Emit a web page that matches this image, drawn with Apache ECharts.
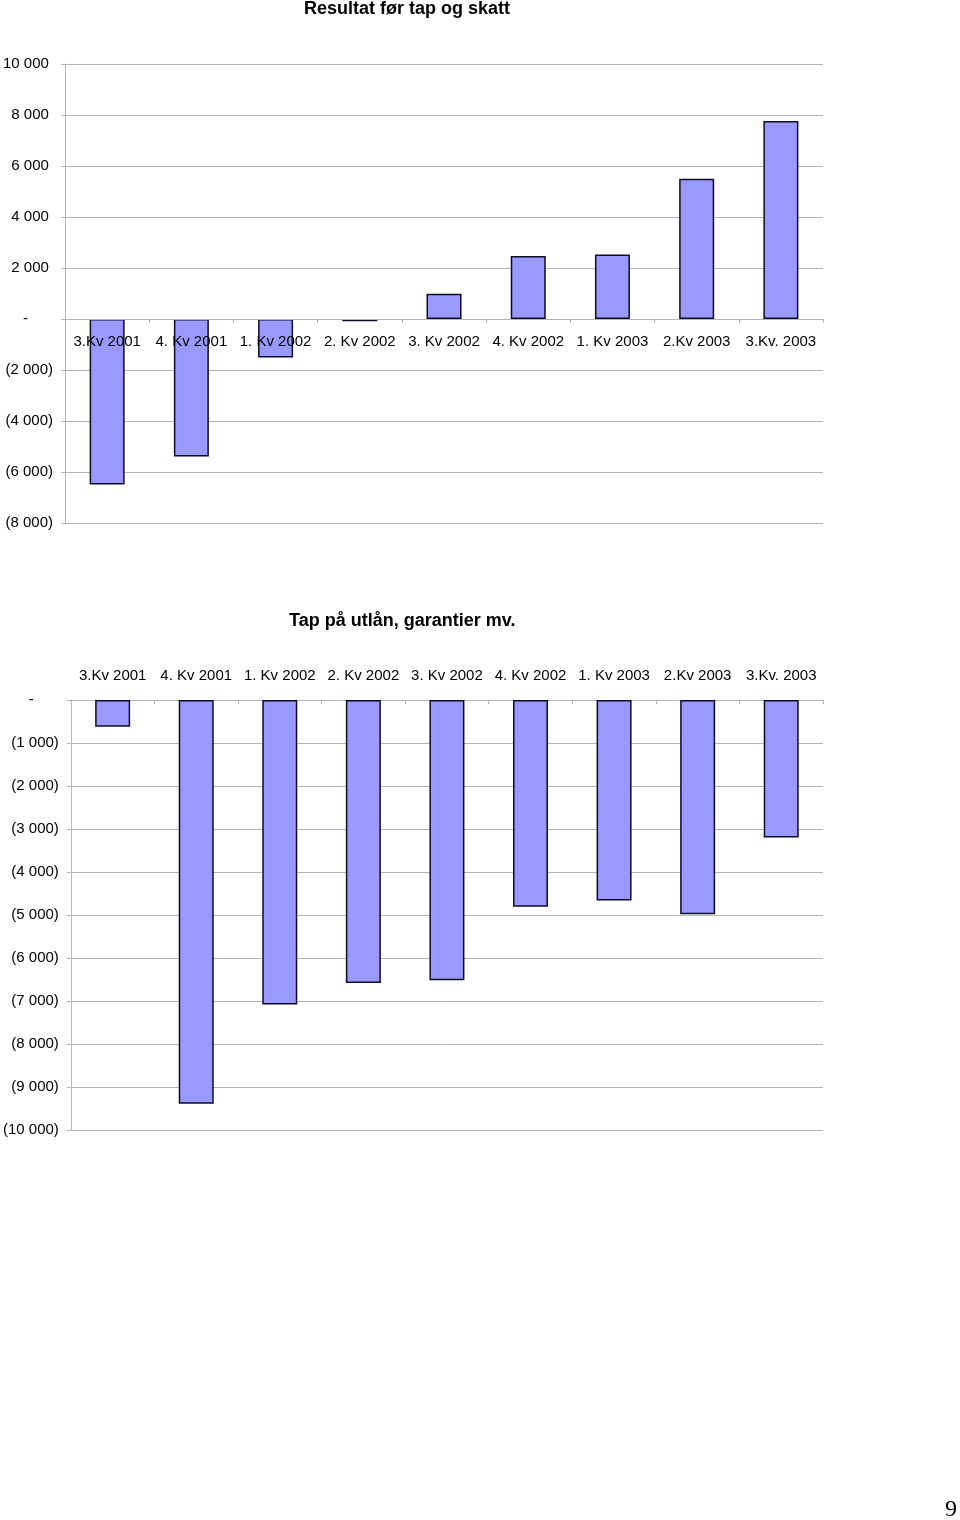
<!DOCTYPE html>
<html>
<head>
<meta charset="utf-8">
<script src="https://cdn.jsdelivr.net/npm/echarts@6/dist/echarts.min.js"></script>
<style>
    html, body { margin: 0; padding: 0; background: #fff; }
    #chart { width: 960px; height: 1520px; }
</style>
</head>
<body>
<div id="chart"></div>
<script>
    const kvartaler = ['3.Kv 2001', '4. Kv 2001', '1. Kv 2002', '2. Kv 2002', '3. Kv 2002', '4. Kv 2002', '1. Kv 2003', '2.Kv 2003', '3.Kv. 2003']
    const resultatFoerTap = [-6490, -5390, -1510, -90, 990, 2470, 2530, 5500, 7760]
    const tapPaaUtlaan = [-620, -9390, -7080, -6580, -6520, -4810, -4660, -4980, -3200]

    const fontFamily = '"Liberation Sans", Arial, sans-serif'
    const gridColor = '#b4b4b4'

    // 10 000 / (2 000) / -
    function tallFormat(v) {
        if (v === 0) return '-      '
        const s = String(Math.abs(v)).replace(/\B(?=(\d{3})+(?!\d))/g, ' ')
        return v < 0 ? '(' + s + ')' : s + ' '
    }

    const barStyle = {
        color: '#9999ff',
        borderColor: '#0d0d26',
        borderWidth: 1.5
    }

    // øverste graf: 10 000 til (8 000), nullinja ligg 10/18 nedover
    const topHeight = 459
    const zeroOffset = -Math.round(topHeight * 8000 / 18000)

    const chart = echarts.init(document.getElementById('chart'))

    chart.setOption({
        animation: false,
        backgroundColor: '#fff',
        title: [
            {
                text: 'Resultat før tap og skatt',
                left: 304,
                top: 0,
                padding: 0,
                textStyle: { fontFamily: fontFamily, fontSize: 18, fontWeight: 'bold', color: '#000' }
            },
            {
                text: 'Tap på utlån, garantier mv.',
                left: 289,
                top: 612,
                padding: 0,
                textStyle: { fontFamily: fontFamily, fontSize: 18, fontWeight: 'bold', color: '#000' }
            }
        ],
        grid: [
            { left: 64, top: 64, width: 759, height: topHeight, containLabel: false },
            { left: 68, top: 700, width: 755, height: 430, containLabel: false }
        ],
        xAxis: [
            {
                gridIndex: 0,
                type: 'category',
                data: kvartaler,
                z: 5,
                offset: zeroOffset,
                axisLine: { onZero: false, lineStyle: { color: gridColor } },
                axisTick: { show: true, length: 4, lineStyle: { color: gridColor } },
                axisLabel: { color: '#000', fontFamily: fontFamily, fontSize: 15, margin: 15, interval: 0 }
            },
            {
                gridIndex: 1,
                type: 'category',
                position: 'top',
                data: kvartaler,
                axisLine: { onZero: false, lineStyle: { color: gridColor } },
                axisTick: { show: true, inside: true, length: 4, lineStyle: { color: gridColor } },
                axisLabel: { color: '#000', fontFamily: fontFamily, fontSize: 15, margin: 17, interval: 0 }
            }
        ],
        yAxis: [
            {
                gridIndex: 0,
                type: 'value',
                min: -8000,
                max: 10000,
                interval: 2000,
                axisLine: { show: true, lineStyle: { color: gridColor } },
                axisTick: { show: true, length: 4, lineStyle: { color: gridColor } },
                splitLine: { lineStyle: { color: gridColor } },
                axisLabel: { color: '#000', fontFamily: fontFamily, fontSize: 15, margin: 12, formatter: tallFormat }
            },
            {
                gridIndex: 1,
                type: 'value',
                min: -10000,
                max: 0,
                interval: 1000,
                axisLine: { show: true, lineStyle: { color: gridColor } },
                axisTick: { show: true, length: 4, lineStyle: { color: gridColor } },
                splitLine: { lineStyle: { color: gridColor } },
                axisLabel: { color: '#000', fontFamily: fontFamily, fontSize: 15, margin: 12, formatter: tallFormat }
            }
        ],
        series: [
            {
                name: 'Resultat før tap og skatt',
                type: 'bar',
                xAxisIndex: 0,
                yAxisIndex: 0,
                barWidth: 35,
                itemStyle: barStyle,
                data: resultatFoerTap
            },
            {
                name: 'Tap på utlån, garantier mv.',
                type: 'bar',
                xAxisIndex: 1,
                yAxisIndex: 1,
                barWidth: 35,
                itemStyle: barStyle,
                data: tapPaaUtlaan
            }
        ],
        graphic: [
            {
                type: 'text',
                style: {
                    text: '9',
                    x: 951,
                    y: 1510,
                    align: 'center',
                    verticalAlign: 'middle',
                    font: '24px "Liberation Serif", serif',
                    fill: '#000'
                }
            }
        ]
    })
</script>
</body>
</html>
